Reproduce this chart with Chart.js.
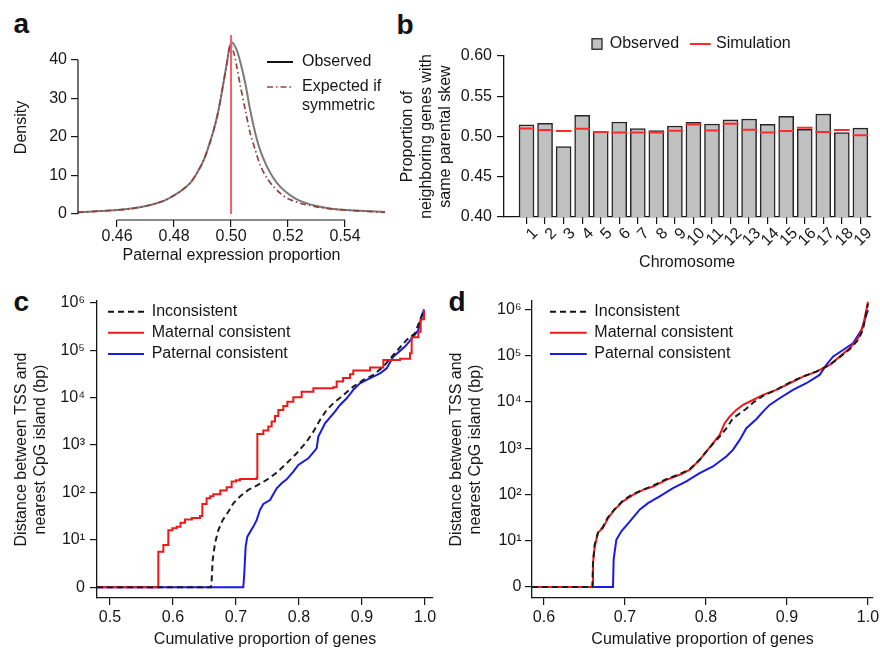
<!DOCTYPE html>
<html><head><meta charset="utf-8">
<script src="https://cdn.jsdelivr.net/npm/chart.js@4.4.1/dist/chart.umd.min.js"></script>
<style>
html,body{margin:0;padding:0;background:#fff}
body{width:880px;height:650px;position:relative;overflow:hidden;font-family:'Liberation Sans',Arial,Helvetica,sans-serif}
canvas{position:absolute}
.lab{position:absolute;font-weight:bold;font-size:28px;line-height:28px;color:#111}
</style></head><body>
<div class="lab" style="left:13.5px;top:9.6px">a</div>
<div class="lab" style="left:396.5px;top:11.3px">b</div>
<div class="lab" style="left:13.5px;top:288px">c</div>
<div class="lab" style="left:448.5px;top:288px">d</div>
<canvas id="ca" width="390" height="280" style="left:0;top:0;width:390px;height:280px"></canvas>
<canvas id="cb" width="490" height="280" style="left:390px;top:0;width:490px;height:280px"></canvas>
<canvas id="cc" width="440" height="370" style="left:0;top:280px;width:440px;height:370px"></canvas>
<canvas id="cd" width="440" height="370" style="left:440px;top:280px;width:440px;height:370px"></canvas>
<script>
// ---------------- Panel a : density of paternal expression proportion
const aObsX = [0.4463,0.4542,0.4600,0.4658,0.4717,0.4752,0.4775,0.4799,0.4828,0.4857,0.4880,0.4904,0.4921,0.4939,0.4956,0.4971,0.4985,0.4997,0.5005,0.5020,0.5032,0.5050,0.5067,0.5085,0.5102,0.5126,0.5149,0.5172,0.5196,0.5219,0.5242,0.5277,0.5312,0.5359,0.5418,0.5476,0.5540];
const aObsY = [0.43,0.78,1.04,1.47,2.34,3.1,3.8,4.8,6.2,8.1,10.6,14.0,17.5,21.8,27.0,33.1,39.1,43.9,44.5,42.6,39.6,33.9,27.0,21.0,16.6,12.3,9.3,7.1,5.5,4.3,3.4,2.5,1.9,1.3,0.95,0.78,0.52];
const aExpX = [0.4463,0.4542,0.4600,0.4658,0.4717,0.4752,0.4775,0.4799,0.4828,0.4857,0.4880,0.4904,0.4921,0.4939,0.4956,0.4971,0.4985,0.4997,0.5009,0.5020,0.5032,0.5050,0.5067,0.5085,0.5102,0.5126,0.5149,0.5172,0.5196,0.5219,0.5242,0.5277,0.5312,0.5359,0.5418,0.5476,0.5540];
const aExpY = [0.43,0.78,1.04,1.47,2.34,3.1,3.8,4.8,6.2,8.1,10.6,14.0,17.5,21.8,27.0,33.1,39.1,43.9,42.0,38.3,33.5,27.0,21.0,16.6,12.7,9.3,7.1,5.4,4.1,3.4,2.8,2.2,1.7,1.3,0.95,0.7,0.43];
const aSymmetryX = 0.50;
const aSymmetryTop = 46.5;
const aXTicks = [0.46,0.48,0.50,0.52,0.54];
const aXTickLabels = ['0.46','0.48','0.50','0.52','0.54'];
const aYTicks = [0,10,20,30,40];
const aYTickLabels = ['0','10','20','30','40'];

// ---------------- Panel b : neighbouring genes with same parental skew
const bChromosomes = ['1','2','3','4','5','6','7','8','9','10','11','12','13','14','15','16','17','18','19'];
const bObserved   = [0.5146,0.5163,0.4874,0.5262,0.5060,0.5180,0.5097,0.5072,0.5130,0.5176,0.5155,0.5208,0.5217,0.5150,0.5250,0.5090,0.5280,0.5050,0.5105];
const bSimulation = [0.5100,0.5080,0.5068,0.5097,0.5056,0.5050,0.5050,0.5050,0.5072,0.5150,0.5076,0.5159,0.5085,0.5050,0.5068,0.5110,0.5056,0.5080,0.5015];
const bYTicks = [0.40,0.45,0.50,0.55,0.60];
const bYTickLabels = ['0.40','0.45','0.50','0.55','0.60'];

// ---------------- Panel c : distance TSS - nearest CpG island (bp)
const cInconX = [0.4794,0.6603,0.6614,0.6630,0.6667,0.6720,0.6788,0.6878,0.6958,0.7063,0.7196,0.7328,0.7487,0.7646,0.7804,0.7963,0.8122,0.8228,0.8333,0.8439,0.8545,0.8704,0.8862,0.9021,0.9180,0.9339,0.9497,0.9709,0.9841,0.9931,0.9984];
const cInconBp = [0,0,1.4,3.8,8.5,16,26,39,59,82,113,139,183,261,411,668,1180,1910,3370,5480,7570,11300,17000,23500,30000,44900,79100,164000,226000,469000,726000];
const cMatX = [0.4794,0.5767,0.5847,0.5926,0.5990,0.6058,0.6120,0.6190,0.6300,0.6429,0.6466,0.6534,0.6590,0.6640,0.6750,0.6852,0.6931,0.7000,0.7063,0.7328,0.7339,0.7434,0.7513,0.7566,0.7619,0.7672,0.7751,0.7815,0.7910,0.8042,0.8228,0.8545,0.8598,0.8700,0.8810,0.8862,0.9127,0.9339,0.9603,0.9762,0.9788,0.9894,0.9931,0.9984];
const cMatBp = [0,5.6,7.8,16,17.5,19,23,27,29,32,57,75,83,91,110,128,169,180,192,205,1710,2010,2440,3110,4090,5480,6650,8210,10100,13300,15700,16500,21700,26000,30900,37000,42800,62000,66200,85900,187000,245000,447000,703000];
const cPatX = [0.4794,0.7116,0.7132,0.7153,0.7180,0.7275,0.7328,0.7381,0.7434,0.7540,0.7646,0.7725,0.7804,0.7910,0.7989,0.8148,0.8280,0.8307,0.8413,0.8571,0.8651,0.8757,0.8862,0.8968,0.9074,0.9286,0.9392,0.9497,0.9683,0.9815,0.9894,0.9947,0.9984];
const cPatBp = [0,0,2,7.2,11.7,19,26,43,57,69,122,156,189,275,380,525,852,1500,2870,5050,6980,9660,14500,20000,23500,32500,41400,73000,119000,193000,266000,508000,726000];
const cXTicks = [0.5,0.6,0.7,0.8,0.9,1.0];
const cXTickLabels = ['0.5','0.6','0.7','0.8','0.9','1.0'];

// ---------------- Panel d
const dInconX = [0.5852,0.6597,0.6605,0.6626,0.6667,0.6728,0.6790,0.6872,0.6975,0.7099,0.7222,0.7346,0.7510,0.7675,0.7798,0.7922,0.8004,0.8086,0.8169,0.8251,0.8333,0.8416,0.8498,0.8580,0.8704,0.8868,0.9033,0.9198,0.9362,0.9527,0.9650,0.9774,0.9877,0.9938,1.0000];
const dInconBp = [0,0,3.3,8.2,15,20,32,48,74,102,126,154,214,274,350,560,847,1240,1780,2690,4420,5610,7130,9580,13500,18200,26200,35200,45100,62900,92000,138000,217000,361000,1320000];
const dMatX = [0.5852,0.6597,0.6605,0.6626,0.6667,0.6728,0.6790,0.6872,0.6975,0.7099,0.7222,0.7346,0.7510,0.7675,0.7798,0.7922,0.8004,0.8086,0.8169,0.8230,0.8292,0.8374,0.8457,0.8580,0.8704,0.8868,0.9033,0.9198,0.9362,0.9527,0.9650,0.9774,0.9877,0.9938,1.0000];
const dMatBp = [0,0,3.3,7.5,15,19,31,47,71,98,126,149,207,266,341,560,847,1280,1940,3470,4820,6720,8610,11000,14200,18200,25300,35200,45100,62900,95100,144000,237000,423000,1460000];
const dPatX = [0.5852,0.6852,0.6860,0.6893,0.6955,0.7058,0.7181,0.7284,0.7428,0.7593,0.7757,0.7922,0.8086,0.8251,0.8333,0.8416,0.8498,0.8621,0.8704,0.8786,0.8909,0.9074,0.9239,0.9403,0.9486,0.9568,0.9691,0.9815,0.9918,1.0000];
const dPatBp = [0,0,3.9,10.5,16,26,47,65,91,137,191,289,402,661,920,1510,2700,4230,6180,8610,12000,18200,25300,38300,62900,95100,132000,185000,358000,968000];
const dXTicks = [0.6,0.7,0.8,0.9,1.0];
const dXTickLabels = ['0.6','0.7','0.8','0.9','1.0'];

// shared y ticks for c / d (0 is drawn at the 10^0 level)
const cdYTicks = [1,10,100,1000,10000,100000,1000000];
const cdYTickLabels = ['0','10\u00B9','10\u00B2','10\u00B3','10\u2074','10\u2075','10\u2076'];

// ---------------- helpers
const FF = "'Liberation Sans', Arial, Helvetica, sans-serif";
const INK = '#161616';
const F16 = {family: FF, size: 16, lineHeight: 1.2};
Chart.defaults.font.family = FF;
Chart.defaults.color = INK;

const zipXY = (xs, ys) => xs.map((x, i) => ({x: x, y: ys[i]}));
const zipBp = (xs, bp) => xs.map((x, i) => ({x: x, y: Math.max(bp[i], 1)}));
const fixBox = (w, h) => s => {
  if (w != null) s.width = w;
  if (h != null) s.height = h;
  s.paddingLeft = 0; s.paddingRight = 0; s.paddingTop = 0; s.paddingBottom = 0;
};
const setTicks = vals => s => { s.ticks = vals.map(v => ({value: v})); };
const tickGrid = len => ({display: true, drawOnChartArea: false, drawTicks: true, tickLength: len, color: INK, tickColor: INK, lineWidth: 1.2, tickWidth: 1.2});

const panelLegend = {
  id: 'panelLegend',
  afterDraw(chart, args, opts) {
    const ctx = chart.ctx;
    ctx.save();
    ctx.font = '16px ' + FF;
    ctx.textBaseline = 'middle';
    ctx.textAlign = 'left';
    (opts.items || []).forEach(it => {
      if (it.kind === 'box') {
        ctx.fillStyle = it.fill;
        ctx.fillRect(it.x1, it.y - it.h / 2, it.x2 - it.x1, it.h);
        ctx.strokeStyle = it.color; ctx.lineWidth = it.width;
        ctx.strokeRect(it.x1, it.y - it.h / 2, it.x2 - it.x1, it.h);
      } else {
        ctx.beginPath();
        ctx.setLineDash(it.dash || []);
        ctx.strokeStyle = it.color; ctx.lineWidth = it.width;
        ctx.moveTo(it.x1, it.y); ctx.lineTo(it.x2, it.y);
        ctx.stroke();
        ctx.setLineDash([]);
      }
      ctx.fillStyle = INK;
      it.text.forEach((t, i) => ctx.fillText(t, it.tx, it.y + i * (it.lh || 18.5)));
    });
    ctx.restore();
  }
};

const rangeFrame = {
  id: 'rangeFrame',
  afterDraw(chart) {
    const {ctx, chartArea: a, scales: {x, y}} = chart;
    const xt = x.ticks, yt = y.ticks;
    ctx.save();
    ctx.strokeStyle = INK; ctx.lineWidth = 1.2;
    ctx.beginPath();
    ctx.moveTo(a.left, y.getPixelForValue(yt[0].value));
    ctx.lineTo(a.left, y.getPixelForValue(yt[yt.length - 1].value));
    ctx.moveTo(x.getPixelForValue(xt[0].value), a.bottom);
    ctx.lineTo(x.getPixelForValue(xt[xt.length - 1].value), a.bottom);
    ctx.stroke();
    ctx.restore();
  }
};

const baseOpts = {responsive: false, animation: false, events: [], maintainAspectRatio: false};

// ---------------- Panel a chart
new Chart(document.getElementById('ca'), {
  type: 'line',
  data: {datasets: [
    {label: 'Symmetry', data: [{x: aSymmetryX, y: 0}, {x: aSymmetryX, y: aSymmetryTop}], borderColor: '#f0606c', borderWidth: 2, pointRadius: 0},
    {label: 'Expected if symmetric', data: zipXY(aExpX, aExpY), borderColor: '#95403c', borderWidth: 1.7, borderDash: [6, 3, 1.5, 3], pointRadius: 0, tension: 0.3},
    {label: 'Observed', data: zipXY(aObsX, aObsY), borderColor: '#7a7a7a', borderWidth: 2, pointRadius: 0, tension: 0.3}
  ]},
  options: Object.assign({}, baseOpts, {
    layout: {padding: {left: 0, top: 35, right: 5, bottom: 0}},
    plugins: {legend: {display: false}, tooltip: {enabled: false},
      panelLegend: {items: [
        {kind: 'line', x1: 267, x2: 293, y: 62, color: '#111', width: 2, text: ['Observed'], tx: 302},
        {kind: 'line', x1: 267, x2: 293, y: 87, color: '#a0403c', width: 1.7, dash: [6, 3, 1.5, 3], text: ['Expected if', 'symmetric'], tx: 302, lh: 18.3}
      ]}},
    scales: {
      x: {type: 'linear', min: 0.4463, max: 0.554, afterBuildTicks: setTicks(aXTicks), afterFit: fixBox(null, 60),
          ticks: {font: F16, color: INK, padding: 0, maxRotation: 0, callback: (v, i) => aXTickLabels[i]},
          grid: tickGrid(7), border: {display: false},
          title: {display: true, text: 'Paternal expression proportion', font: F16, color: INK, padding: {top: 0, bottom: 15}}},
      y: {type: 'linear', min: -1.56, max: aSymmetryTop, afterBuildTicks: setTicks(aYTicks), afterFit: fixBox(78, null),
          ticks: {font: F16, color: INK, padding: 4, callback: (v, i) => aYTickLabels[i]},
          grid: tickGrid(7), border: {display: false},
          title: {display: true, text: 'Density', font: F16, color: INK, padding: {top: 12.4, bottom: 0}}}
    }
  }),
  plugins: [panelLegend, rangeFrame]
});

// ---------------- Panel b chart
const bPos = bChromosomes.map(c => parseInt(c, 10));
new Chart(document.getElementById('cb'), {
  type: 'bar',
  data: {datasets: [
    {type: 'line', label: 'Simulation', data: zipXY(bPos, bSimulation), showLine: false, pointStyle: 'line', pointRadius: 7.8, pointBorderWidth: 2, pointBorderColor: '#ff2a2a', borderColor: '#ff2a2a', order: 0},
    {type: 'bar', label: 'Observed', data: zipXY(bPos, bObserved), backgroundColor: '#c0c0c0', borderColor: '#262626', borderWidth: 1.5, barThickness: 15, order: 1}
  ]},
  options: Object.assign({}, baseOpts, {
    layout: {padding: {left: 0, top: 56, right: 2, bottom: 0}},
    plugins: {legend: {display: false}, tooltip: {enabled: false},
      panelLegend: {items: [
        {kind: 'box', x1: 202, x2: 212, y: 44, h: 10.5, fill: '#c0c0c0', color: '#262626', width: 1.3, text: ['Observed'], tx: 219.7},
        {kind: 'line', x1: 300, x2: 320.7, y: 44, color: '#ff2a2a', width: 2, text: ['Simulation'], tx: 326}
      ]}},
    scales: {
      x: {type: 'linear', min: -0.214, max: 19.53, offset: false, afterBuildTicks: setTicks(bPos), afterFit: fixBox(null, 63),
          ticks: {font: F16, color: INK, padding: 0, minRotation: 45, maxRotation: 45, autoSkip: false, labelOffset: 9, callback: (v, i) => bChromosomes[i]},
          grid: Object.assign(tickGrid(7), {offset: false}), border: {display: true, color: INK, width: 1.3},
          title: {display: true, text: 'Chromosome', font: F16, color: INK, padding: {top: 0, bottom: 7.4}}},
      y: {type: 'linear', min: 0.40, max: 0.60, afterBuildTicks: setTicks(bYTicks), afterFit: fixBox(114, null),
          ticks: {font: F16, color: INK, padding: 5, callback: (v, i) => bYTickLabels[i]},
          grid: tickGrid(7), border: {display: true, color: INK, width: 1.3},
          title: {display: true, text: ['Proportion of', 'neighboring genes with', 'same parental skew'], font: F16, color: INK, padding: {top: 8, bottom: 0}}}
    }
  }),
  plugins: [panelLegend]
});

// ---------------- Panels c and d
function cdChart(id, cfg) {
  new Chart(document.getElementById(id), {
    type: 'scatter',
    data: {datasets: [
      {label: 'Inconsistent', data: zipBp(cfg.inconX, cfg.inconBp), showLine: true, borderColor: '#1c1c1c', borderWidth: 2, borderDash: [6, 4], pointRadius: 0},
      {label: 'Maternal consistent', data: zipBp(cfg.matX, cfg.matBp), showLine: true, stepped: cfg.stepped, borderColor: '#f01818', borderWidth: 2, pointRadius: 0},
      {label: 'Paternal consistent', data: zipBp(cfg.patX, cfg.patBp), showLine: true, borderColor: '#1a1ae6', borderWidth: 2, pointRadius: 0}
    ]},
    options: Object.assign({}, baseOpts, {
      layout: {padding: {left: 0, top: cfg.top, right: 7, bottom: 0}},
      plugins: {legend: {display: false}, tooltip: {enabled: false},
        panelLegend: {items: [
          {kind: 'line', x1: cfg.lx1, x2: cfg.lx2, y: 31.7, color: '#111', width: 2, dash: [6, 4], text: ['Inconsistent'], tx: cfg.tx},
          {kind: 'line', x1: cfg.lx1, x2: cfg.lx2, y: 52.7, color: '#f01818', width: 2, text: ['Maternal consistent'], tx: cfg.tx},
          {kind: 'line', x1: cfg.lx1, x2: cfg.lx2, y: 74, color: '#1a1ae6', width: 2, text: ['Paternal consistent'], tx: cfg.tx}
        ]}},
      scales: {
        x: {type: 'linear', min: cfg.xmin, max: cfg.xmax, afterBuildTicks: setTicks(cfg.xTicks), afterFit: fixBox(null, 52),
            ticks: {font: F16, color: INK, padding: 3, maxRotation: 0, callback: (v, i) => cfg.xLabels[i]},
            grid: tickGrid(7), border: {display: true, color: INK, width: 1.3},
            title: {display: true, text: 'Cumulative proportion of genes', font: F16, color: INK, padding: {top: 0, bottom: 0.5}}},
        y: {type: 'logarithmic', min: cfg.ymin, max: cfg.ymax, afterBuildTicks: setTicks(cdYTicks), afterFit: fixBox(cfg.yw, null),
            ticks: {font: F16, color: INK, padding: cfg.ypad, callback: (v, i) => cdYTickLabels[i]},
            grid: tickGrid(7), border: {display: true, color: INK, width: 1.3},
            title: {display: true, text: ['Distance between TSS and', 'nearest CpG island (bp)'], font: F16, color: INK, padding: {top: cfg.tpad, bottom: 0}}}
      }
    }),
    plugins: [panelLegend]
  });
}

cdChart('cc', {inconX: cInconX, inconBp: cInconBp, matX: cMatX, matBp: cMatBp, patX: cPatX, patBp: cPatBp,
  stepped: true, top: 21, xmin: 0.4794, xmax: 1.0127, xTicks: cXTicks, xLabels: cXTickLabels,
  ymin: 0.5943, ymax: 1.0864e6, yw: 97, ypad: 5, tpad: 12, lx1: 108, lx2: 144, tx: 151.7});
cdChart('cd', {inconX: dInconX, inconBp: dInconBp, matX: dMatX, matBp: dMatBp, patX: dPatX, patBp: dPatBp,
  stepped: false, top: 21, xmin: 0.5852, xmax: 1.0062, xTicks: dXTicks, xLabels: dXTickLabels,
  ymin: 0.5794, ymax: 1.514e6, yw: 92, ypad: 3.5, tpad: 7, lx1: 110, lx2: 146.7, tx: 154.3});
</script>
</body></html>
